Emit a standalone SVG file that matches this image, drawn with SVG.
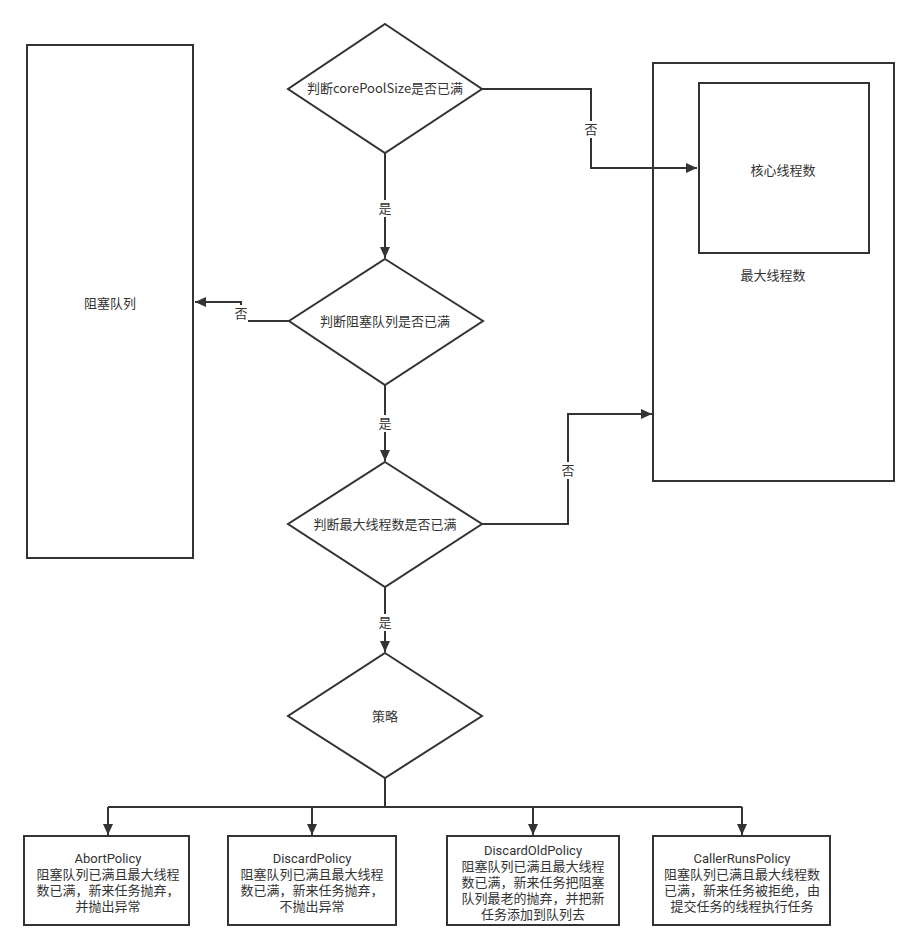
<svg xmlns="http://www.w3.org/2000/svg" width="919" height="949" viewBox="0 0 919 949">
<style>
.shape{fill:#fff;stroke:#333;stroke-width:2}
.edge{fill:none;stroke:#333;stroke-width:2}
text{font-family:"Noto Sans CJK SC","Microsoft YaHei",sans-serif;font-size:13px;fill:#333;text-anchor:middle}
text.ml{font-family:Roboto,"Noto Sans CJK SC",sans-serif}
.lbl{fill:#fff;stroke:none}
</style>
<defs>
<marker id="arr" markerUnits="userSpaceOnUse" markerWidth="11" markerHeight="10" refX="11" refY="5" orient="auto">
<path d="M0,0 L11,5 L0,10 z" fill="#333"/>
</marker>
</defs>
<rect width="919" height="949" fill="#fff"/>
<g id="maxThreads">
<rect class="shape" x="653" y="63" width="241" height="418"/>
<text x="773" y="280">最大线程数</text>
</g>
<g id="coreThreads">
<rect class="shape" x="699" y="83" width="170" height="170"/>
<text x="783" y="175">核心线程数</text>
</g>
<g id="blockingQueue">
<rect class="shape" x="27" y="45" width="166" height="513"/>
<text x="110" y="308">阻塞队列</text>
</g>
<g id="checkCore">
<path class="shape" d="M385,24 L482,89 L385,153 L288,89 Z"/>
<text x="385" y="93">判断corePoolSize是否已满</text>
</g>
<g id="checkQueue">
<path class="shape" d="M385,259 L483,321 L385,385 L289,321 Z"/>
<text x="385" y="326">判断阻塞队列是否已满</text>
</g>
<g id="checkMax">
<path class="shape" d="M385,462 L482,524 L385,587 L288,524 Z"/>
<text x="385" y="529">判断最大线程数是否已满</text>
</g>
<g id="policy">
<path class="shape" d="M385,653 L482,716 L385,778 L288,716 Z"/>
<text x="385" y="721">策略</text>
</g>
<g id="abortPolicy">
<rect class="shape" x="24" y="836" width="165" height="89"/>
<text class="ml" x="108" y="863"><tspan x="108">AbortPolicy</tspan><tspan x="108" dy="16">阻塞队列已满且最大线程</tspan><tspan x="108" dy="16">数已满，新来任务抛弃，</tspan><tspan x="108" dy="16">并抛出异常</tspan></text>
</g>
<g id="discardPolicy">
<rect class="shape" x="228" y="836" width="168" height="89"/>
<text class="ml" x="312" y="863"><tspan x="312">DiscardPolicy</tspan><tspan x="312" dy="16">阻塞队列已满且最大线程</tspan><tspan x="312" dy="16">数已满，新来任务抛弃，</tspan><tspan x="312" dy="16">不抛出异常</tspan></text>
</g>
<g id="discardOldPolicy">
<rect class="shape" x="447" y="836" width="172" height="89"/>
<text class="ml" x="533" y="855"><tspan x="533">DiscardOldPolicy</tspan><tspan x="533" dy="16">阻塞队列已满且最大线程</tspan><tspan x="533" dy="16">数已满，新来任务把阻塞</tspan><tspan x="533" dy="16">队列最老的抛弃，并把新</tspan><tspan x="533" dy="16">任务添加到队列去</tspan></text>
</g>
<g id="callerRunsPolicy">
<rect class="shape" x="653" y="836" width="177" height="89"/>
<text class="ml" x="742" y="863"><tspan x="742">CallerRunsPolicy</tspan><tspan x="742" dy="16">阻塞队列已满且最大线程数</tspan><tspan x="742" dy="16">已满，新来任务被拒绝，由</tspan><tspan x="742" dy="16">提交任务的线程执行任务</tspan></text>
</g>
<g id="connectors">
<path class="edge" d="M482,89 H591 V168 H697" marker-end="url(#arr)"/>
<path class="edge" d="M385,153 V258" marker-end="url(#arr)"/>
<path class="edge" d="M289,321 H241 V302 H195" marker-end="url(#arr)"/>
<path class="edge" d="M385,385 V461" marker-end="url(#arr)"/>
<path class="edge" d="M482,524 H568 V414 H652" marker-end="url(#arr)"/>
<path class="edge" d="M385,587 V652" marker-end="url(#arr)"/>
<path class="edge" d="M385,778 V807" stroke-width="3"/>
<path class="edge" d="M108,807 H742"/>
<path class="edge" d="M108,807 V835" marker-end="url(#arr)"/>
<path class="edge" d="M312,807 V835" marker-end="url(#arr)"/>
<path class="edge" d="M533,807 V835" marker-end="url(#arr)"/>
<path class="edge" d="M742,807 V835" marker-end="url(#arr)"/>
<rect class="lbl" x="584" y="121" width="14" height="17"/>
<text x="591" y="134">否</text>
<rect class="lbl" x="378" y="200" width="14" height="17"/>
<text x="385" y="213">是</text>
<rect class="lbl" x="234" y="305" width="14" height="17"/>
<text x="241" y="318">否</text>
<rect class="lbl" x="378" y="415" width="14" height="17"/>
<text x="385" y="428">是</text>
<rect class="lbl" x="561" y="462" width="14" height="17"/>
<text x="568" y="475">否</text>
<rect class="lbl" x="378" y="614" width="14" height="17"/>
<text x="385" y="627">是</text>
</g>
</svg>
